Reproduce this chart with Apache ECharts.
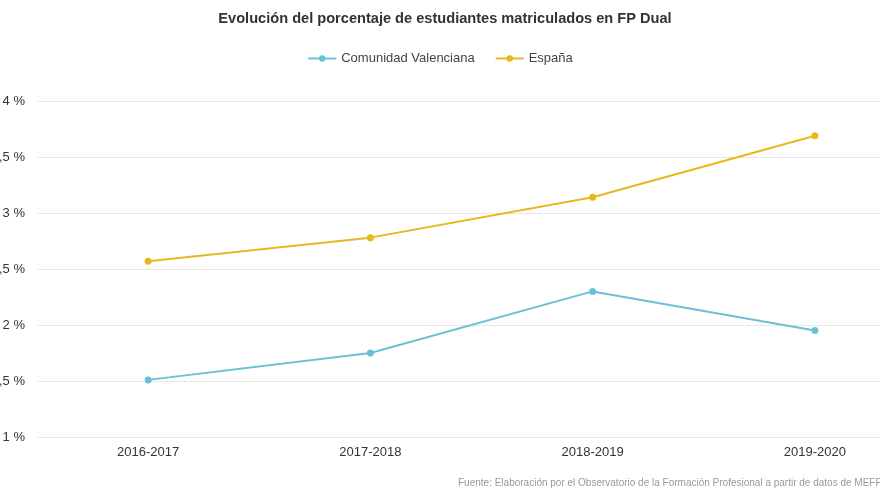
<!DOCTYPE html>
<html>
<head>
<meta charset="utf-8">
<script src="https://cdn.jsdelivr.net/npm/echarts@6/dist/echarts.min.js"></script>
<style>html,body{margin:0;padding:0;background:#fff;}#c{width:880px;height:495px;}</style>
</head>
<body>
<div id="c"></div>
<script>
var categories = ['2016-2017', '2017-2018', '2018-2019', '2019-2020'];
var valenciana = [1.51, 1.75, 2.30, 1.95];
var espana = [2.57, 2.78, 3.14, 3.69];
var seriesNames = ['Comunidad Valenciana', 'España'];
var titleText = 'Evolución del porcentaje de estudiantes matriculados en FP Dual';
var sourceText = 'Fuente: Elaboración por el Observatorio de la Formación Profesional a partir de datos de MEFP-EDUCAbase';

var chart = echarts.init(document.getElementById('c'), null, {renderer: 'canvas'});
var font = 'Arial, "Liberation Sans", sans-serif';
chart.setOption({
  animation: false,
  backgroundColor: '#fff',
  title: [{
    text: titleText,
    left: 440, top: 6, textAlign: 'center',
    textStyle: {fontFamily: font, fontSize: 14.6, fontWeight: 'bold', color: '#333'}
  }, {
    text: sourceText,
    left: 453, top: 473,
    textStyle: {fontFamily: font, fontSize: 10, fontWeight: 'normal', color: '#999'}
  }],
  legend: {
    top: 47, left: 'center',
    itemWidth: 28, itemHeight: 8, itemGap: 20,
    textStyle: {fontFamily: font, fontSize: 13, color: '#444'},
    data: seriesNames
  },
  grid: {left: 37, top: 101, width: 889, height: 336, containLabel: false, outerBoundsMode: 'none'},
  xAxis: {
    type: 'category',
    data: categories,
    boundaryGap: true,
    axisLine: {show: false},
    axisTick: {show: false},
    axisLabel: {fontFamily: font, fontSize: 13, color: '#333', margin: 9}
  },
  yAxis: {
    type: 'value',
    min: 1, max: 4, interval: 0.5,
    axisLine: {show: false},
    axisTick: {show: false},
    axisLabel: {
      fontFamily: font, fontSize: 13, color: '#333', margin: 12,
      formatter: function (v) { return String(v).replace('.', ',') + ' %'; }
    },
    splitLine: {lineStyle: {color: '#dcdcdc', type: [2, 1], width: 1}}
  },
  series: [{
    name: seriesNames[0], type: 'line', data: valenciana,
    symbol: 'circle', symbolSize: 7,
    lineStyle: {color: '#6cc0d6', width: 2},
    itemStyle: {color: '#6cc0d6'}
  }, {
    name: seriesNames[1], type: 'line', data: espana,
    symbol: 'circle', symbolSize: 7,
    lineStyle: {color: '#e6b81e', width: 2},
    itemStyle: {color: '#e6b81e'}
  }]
});
</script>
</body>
</html>
